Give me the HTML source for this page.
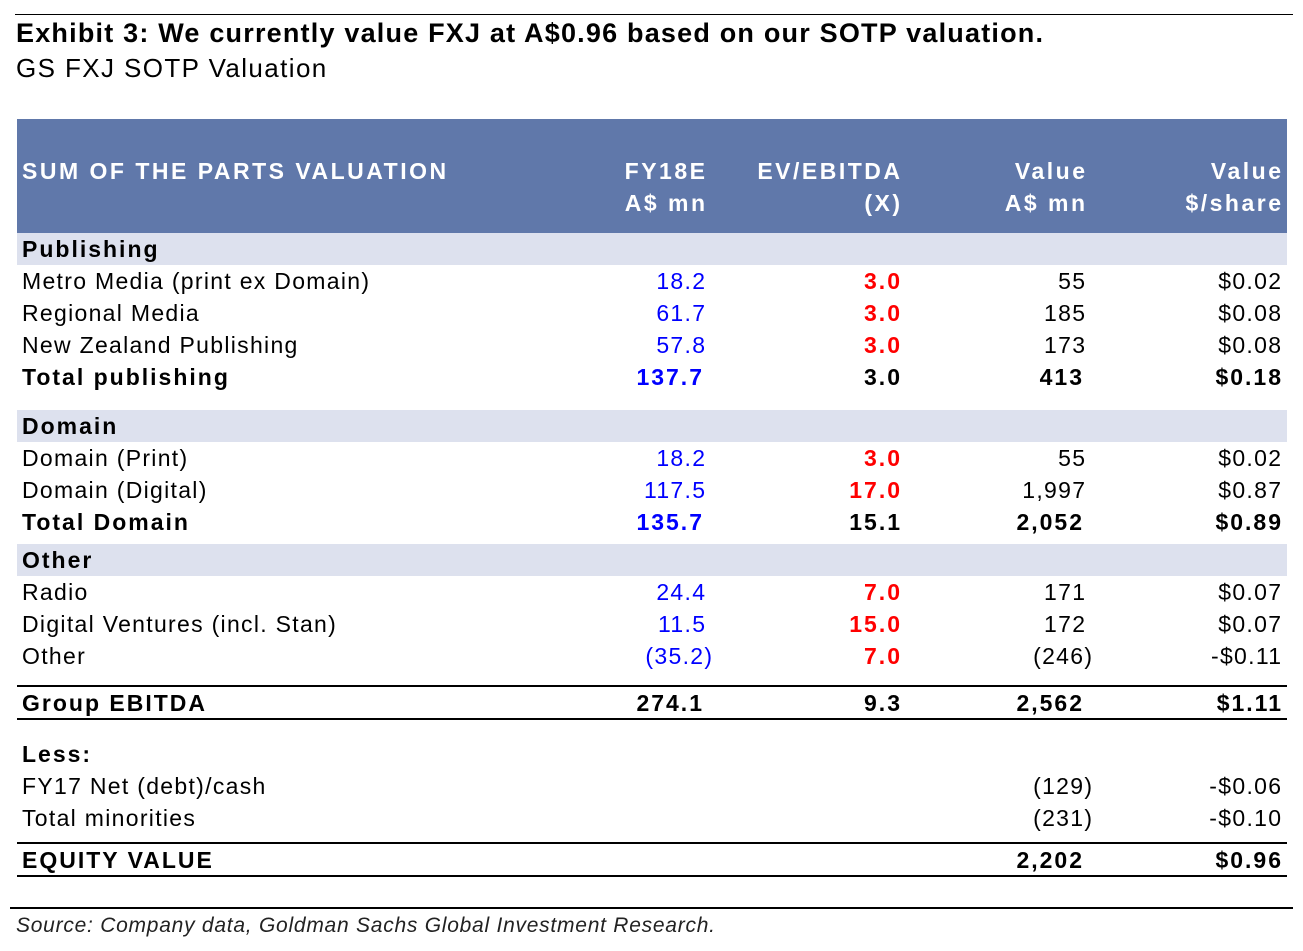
<!DOCTYPE html>
<html><head><meta charset="utf-8">
<style>
html,body{margin:0;padding:0;background:#fff;}
body{width:1303px;height:951px;position:relative;overflow:hidden;font-family:"Liberation Sans",Arial,sans-serif;color:#000;}
.t{position:absolute;white-space:nowrap;line-height:28px;height:28px;font-size:23px;letter-spacing:1.3px;}
.r{text-align:right;}
.b{font-weight:bold;letter-spacing:2px;}
.h{letter-spacing:2.5px;}
.hl{position:absolute;background:#000;}
</style></head><body>
<div class="hl" style="left:15px;top:14px;width:1278px;height:1px;"></div>
<div class="t b" style="left:16px;top:19px;font-size:27px;letter-spacing:1.2px;">Exhibit 3: We currently value FXJ at A$0.96 based on our SOTP valuation.</div>
<div class="t" style="left:16px;top:54px;font-size:26px;letter-spacing:1.4px;">GS FXJ SOTP Valuation</div>

<div style="position:absolute;left:17px;top:119px;width:1270px;height:114px;background:#6078aa;"></div>
<div id="tbl"></div>

<div class="hl" style="left:10px;top:907px;width:1283px;height:2px;"></div>
<div class="t" style="left:16px;top:912px;font-size:21px;font-style:italic;color:#222;letter-spacing:0.75px;">Source: Company data, Goldman Sachs Global Investment Research.</div>

<script>
const headers = [["SUM OF THE PARTS VALUATION",""],["FY18E","A$ mn"],["EV/EBITDA","(X)"],["Value","A$ mn"],["Value","$/share"]];
const rows = [
 ["band","Publishing"],
 ["row","Metro Media (print ex Domain)","18.2","3.0","55","$0.02"],
 ["row","Regional Media","61.7","3.0","185","$0.08"],
 ["row","New Zealand Publishing","57.8","3.0","173","$0.08"],
 ["total","Total publishing","137.7","3.0","413","$0.18"],
 ["band","Domain"],
 ["row","Domain (Print)","18.2","3.0","55","$0.02"],
 ["row","Domain (Digital)","117.5","17.0","1,997","$0.87"],
 ["total","Total Domain","135.7","15.1","2,052","$0.89"],
 ["band","Other"],
 ["row","Radio","24.4","7.0","171","$0.07"],
 ["row","Digital Ventures (incl. Stan)","11.5","15.0","172","$0.07"],
 ["row","Other","(35.2)","7.0","(246)","-$0.11"],
 ["group","Group EBITDA","274.1","9.3","2,562","$1.11"],
 ["less","Less:"],
 ["row2","FY17 Net (debt)/cash","","","(129)","-$0.06"],
 ["row2","Total minorities","","","(231)","-$0.10"],
 ["group","EQUITY VALUE","","","2,202","$0.96"]
];
const rowY = [249,281,313,345,377,426,458,490,522,560,592,624,656,703,754,786,818,860];
const colRight = [0,705,900,1085,1281];
const tbl = document.getElementById('tbl');
function txt(s, x, y, cls, right, color, name){
  const d=document.createElement('div');
  d.className='t '+cls;
  
  
  d.textContent=s;
  d.style.top=(y-14)+'px';
  tbl.appendChild(d);
  if(right){
    const ls=parseFloat(getComputedStyle(d).letterSpacing)||0;
    d.style.right=(1303-x-ls)+'px';
  } else {d.style.left=x+'px';}
  if(color) d.style.color=color;
}
txt(headers[0][0],22,171,'b h',false,'#fff','header-label');
for(let c=1;c<5;c++){
  txt(headers[c][0],colRight[c],171,'b h',true,'#fff','header-col-'+c);
  txt(headers[c][1],colRight[c],203,'b h',true,'#fff','header-col-'+c+'-unit');
}
function line(y,h,name){
  const d=document.createElement('div');
  d.className='hl';
  
  
  d.style.left='17px';d.style.width='1270px';d.style.top=y+'px';d.style.height=h+'px';
  tbl.appendChild(d);
}
rows.forEach((r,i)=>{
  const y=rowY[i], t=r[0];
  if(t==='band'){
    const d=document.createElement('div');
    
    
    d.style.cssText='position:absolute;left:17px;width:1270px;background:#dde1ee;top:'+(y-16)+'px;height:32px;';
    tbl.appendChild(d);
    txt(r[1],22,y,'b',false,null,'section-label');
    return;
  }
  if(t==='less'){txt(r[1],22,y,'b',false,null,'less-label');return;}
  const bold = (t==='total'||t==='group');
  if(t==='group'){line(y-18,2,'rule-above');line(y+15,2,'rule-below');}
  txt(r[1],22,y,bold?'b':'',false,null,'row-label');
  for(let c=2;c<6;c++){
    const v=r[c]; if(!v) continue;
    let color=null;
    if(c===2 && t!=='group') color='#0000ff';
    if(c===3 && (t==='row')) color='#ff0000';
    const cls = bold||(c===3&&t==='row') ? 'b':'';
    let x=colRight[c-1];
    if(v.endsWith(')')) x+=7;
    else if(bold && (c===2||c===4)) x-=3;
    txt(v,x,y,cls,true,color,'cell-col-'+(c-1));
  }
});
</script>
</body></html>
